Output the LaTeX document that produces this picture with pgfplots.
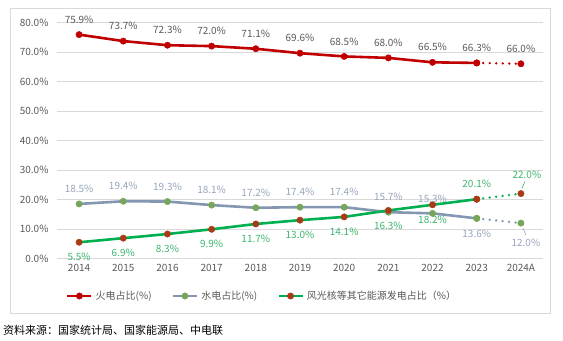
\documentclass[border=0pt]{standalone}
\usepackage{pgfplots}
\pgfplotsset{compat=1.18}
\usepackage{fontspec}
\setmainfont{Noto Sans CJK SC}
\definecolor{cRed}{HTML}{C00000}
\definecolor{cSlate}{HTML}{8497B0}
\definecolor{cOlive}{HTML}{76A65A}
\definecolor{cGreen}{HTML}{00B050}
\definecolor{cBrown}{HTML}{A83A16}
\definecolor{cTxt}{HTML}{595959}
\definecolor{cGrid}{HTML}{D9D9D9}
\definecolor{cGLab}{HTML}{3DB56E}
\definecolor{cSLab}{HTML}{97A5BC}
\pgfplotsset{
  labfmt/.style={nodes near coords={\pgfmathprintnumber[fixed,fixed zerofill,precision=1,assume math mode=true]{\pgfplotspointmeta}\%}},
  labA/.style={draw=none, mark=none, forget plot, labfmt, nodes near coords style={font=\fontsize{10bp}{12bp}\selectfont, text=#1, inner sep=0pt, anchor=south, yshift=11bp}},
  labB/.style={draw=none, mark=none, forget plot, labfmt, nodes near coords style={font=\fontsize{10bp}{12bp}\selectfont, text=#1, inner sep=0pt, anchor=north, yshift=-11bp}},
  labC/.style 2 args={draw=none, mark=none, forget plot, labfmt, nodes near coords style={font=\fontsize{10bp}{12bp}\selectfont, text=#1, inner sep=0pt, anchor=center, #2}},
  mk/.style={mark=*, mark size=3.2bp, mark options={fill=#1, draw=#1, line width=0.4bp, solid}},
}
\begin{document}
\begin{tikzpicture}
\useasboundingbox (0,0) rectangle (563bp,341bp);
\draw[cGrid, line width=0.8bp] (10bp,28bp) rectangle (550bp,333bp);
\node[anchor=west, inner sep=0pt, font=\fontsize{11bp}{13bp}\selectfont] at (3bp,11bp) {资料来源：国家统计局、国家能源局、中电联};
\begin{axis}[
  at={(57bp,82.5bp)}, anchor=south west, scale only axis,
  width=486bp, height=236bp,
  xmin=-0.5, xmax=10.5, ymin=0, ymax=80,
  xtick={0,...,10},
  xticklabels={2014,2015,2016,2017,2018,2019,2020,2021,2022,2023,2024A},
  ytick={0,10,...,80},
  yticklabel={\pgfmathprintnumber[fixed,fixed zerofill,precision=1,assume math mode=true]{\tick}\%},
  ymajorgrids, grid style={cGrid, line width=0.8bp},
  axis line style={draw=none},
  major tick length=0pt, tick style={draw=none},
  ticklabel style={font=\fontsize{10bp}{12bp}\selectfont, text=cTxt},
  yticklabel style={xshift=-5bp},
  xticklabel style={yshift=-2bp},
  clip=false,
  legend columns=3,
  legend style={draw=none, fill=none, at={(axis description cs:0.422,-0.159)}, anchor=center,
    font=\fontsize{10bp}{12bp}\selectfont, text=cTxt, inner sep=0pt,
    /tikz/every even column/.append style={column sep=18bp},
    /tikz/every odd column/.append style={column sep=1bp}},
  legend image code/.code={\draw[mark repeat=2,mark phase=2,#1] plot coordinates {(0bp,0bp) (12bp,0bp) (24bp,0bp)};},
]
% Thermal
\addplot[cRed, line width=2.6bp, mk=cRed]
  coordinates {(0,75.9)(1,73.7)(2,72.3)(3,72.0)(4,71.1)(5,69.6)(6,68.5)(7,68.0)(8,66.5)(9,66.3)};
\addlegendentry{火电占比(\%)}
% Hydro
\addplot[cSlate, line width=2.6bp, mk=cOlive]
  coordinates {(0,18.5)(1,19.4)(2,19.3)(3,18.1)(4,17.2)(5,17.4)(6,17.4)(7,15.7)(8,15.3)(9,13.6)};
\addlegendentry{水电占比(\%)}
% Other
\addplot[cGreen, line width=2.6bp, mk=cBrown]
  coordinates {(0,5.5)(1,6.9)(2,8.3)(3,9.9)(4,11.7)(5,13.0)(6,14.1)(7,16.3)(8,18.2)(9,20.1)};
\addlegendentry{风光核等其它能源发电占比（\%）}
% dotted forecasts
\addplot[forget plot, cRed, line width=2.6bp, line cap=round, dash pattern=on 0.01bp off 6.5bp, mk=cRed, mark indices={2}]
  coordinates {(9,66.3)(10,66.0)};
\addplot[forget plot, cSlate, line width=2.6bp, line cap=round, dash pattern=on 0.01bp off 6.5bp, mk=cOlive, mark indices={2}]
  coordinates {(9,13.6)(10,12.0)};
\addplot[forget plot, cGreen, line width=2.6bp, line cap=round, dash pattern=on 0.01bp off 6.5bp, mk=cBrown, mark indices={2}]
  coordinates {(9,20.1)(10,22.0)};
% redraw markers at 2023 on top
\addplot[forget plot, only marks, mk=cOlive] coordinates {(9,13.6)};
\addplot[forget plot, only marks, mk=cBrown] coordinates {(9,20.1)};
\addplot[forget plot, only marks, mk=cRed] coordinates {(9,66.3)};
% labels
\addplot[labA=cTxt] coordinates {(0,75.9)(1,73.7)(2,72.3)(3,72.0)(4,71.1)(5,69.6)(6,68.5)(7,68.0)(8,66.5)(9,66.3)(10,66.0)};
\addplot[labA=cSLab] coordinates {(0,18.5)(1,19.4)(2,19.3)(3,18.1)(4,17.2)(5,17.4)(6,17.4)(7,15.7)(8,15.3)};
\addplot[labB=cSLab] coordinates {(9,13.6)};
\addplot[labC={cSLab}{xshift=5bp,yshift=-19.5bp}] coordinates {(10,12.0)};
\addplot[labB=cGLab] coordinates {(0,5.5)(1,6.9)(2,8.3)(3,9.9)(4,11.7)(5,13.0)(6,14.1)(7,16.3)(8,18.2)};
\addplot[labA=cGLab] coordinates {(9,20.1)};
\addplot[labC={cGLab}{xshift=6bp,yshift=19bp}] coordinates {(10,22.0)};
\draw[cSLab, line width=0.6bp] ([xshift=2bp,yshift=-5bp]axis cs:10,12.0) -- ([xshift=5bp,yshift=-12bp]axis cs:10,12.0);
\draw[cGLab, line width=0.6bp] ([xshift=1bp,yshift=5bp]axis cs:10,22.0) -- ([xshift=4bp,yshift=12bp]axis cs:10,22.0);
\end{axis}
\end{tikzpicture}
\end{document}
